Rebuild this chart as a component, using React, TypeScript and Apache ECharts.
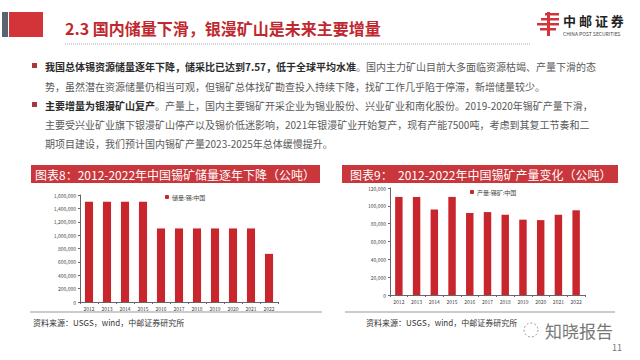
import React, { useEffect, useRef } from "react";
import * as echarts from "echarts";

const years = ["2012", "2013", "2014", "2015", "2016", "2017", "2018", "2019", "2020", "2021", "2022"];
const reserves = [1500000, 1500000, 1500000, 1500000, 1100000, 1100000, 1100000, 1100000, 1100000, 1100000, 720000];
const production = [110000, 110000, 96000, 110000, 92000, 93000, 90000, 84500, 84000, 90000, 95000];
const reserveName = "储量:锡:中国";
const productionName = "产量:锡矿:中国";

const titleText = "2.3 国内储量下滑，银漫矿山是未来主要增量";
const chart8Title = "图表8：2012-2022年中国锡矿储量逐年下降（公吨）";
const chart9Title = "图表9：  2012-2022年中国锡矿产量变化（公吨）";
const sourceText = "资料来源：USGS，wind，中邮证券研究所";
const bodyLines = [
  "{b|我国总体锡资源储量逐年下降，储采比已达到7.57，低于全球平均水准}。国内主力矿山目前大多面临资源枯竭、产量下滑的态",
  "势，虽然潜在资源储量仍相当可观，但锡矿总体找矿勘查投入持续下降，找矿工作几乎陷于停滞，新增储量较少。",
  "{b|主要增量为银漫矿山复产}。产量上，国内主要锡矿开采企业为锡业股份、兴业矿业和南化股份。2019-2020年锡矿产量下滑，",
  "主要受兴业矿业旗下银漫矿山停产以及锡价低迷影响，2021年银漫矿业开始复产，现有产能7500吨，考虑到其复工节奏和二",
  "期项目建设，我们预计国内锡矿产量2023-2025年总体缓慢提升。",
];

const FONT = "'Noto Sans CJK SC', 'Noto Sans', sans-serif";
const RED = "#c9252c";

export default function App() {
  const ref = useRef<HTMLDivElement>(null);
  useEffect(() => {
    document.body.style.margin = "0";
    const chart = echarts.init(ref.current!, null, { renderer: "svg" });
    const lineYs = [66, 86, 105, 124, 143];
    const body: any[] = bodyLines.map((t, i) => ({
      type: "text",
      x: 45,
      y: lineYs[i],
      style: {
        text: t,
        fontFamily: FONT,
        fontSize: 10,
        fill: "#595959",
        verticalAlign: "middle",
        rich: { b: { fontWeight: "bold", fill: "#2b2b2b", fontSize: 10, fontFamily: FONT } },
      },
    }));
    const axisLabel = { fontSize: 5, color: "#444", fontFamily: FONT };
    const yLabel = {
      ...axisLabel,
      formatter: (v: number) => v.toLocaleString("en-US"),
      margin: 4,
    };
    const axisLine = { show: true, lineStyle: { color: "#666", width: 1 } };
    chart.setOption({
      animation: false,
      backgroundColor: "#ffffff",
      textStyle: { fontFamily: FONT },
      legend: [
        {
          data: [reserveName],
          left: 160,
          top: 189,
          itemWidth: 4,
          itemHeight: 4,
          itemGap: 2,
          textStyle: { fontSize: 6, color: "#444", padding: [0, 0, 0, -2] },
        },
        {
          data: [productionName],
          left: 465,
          top: 184,
          itemWidth: 4,
          itemHeight: 4,
          textStyle: { fontSize: 6, color: "#444", padding: [0, 0, 0, -2] },
        },
      ],
      grid: [
        { left: 80, top: 195, right: 362, bottom: 58 },
        { left: 390, top: 188, right: 55, bottom: 65 },
      ],
      xAxis: [
        {
          type: "category",
          gridIndex: 0,
          data: years,
          axisLine,
          axisTick: { show: true, length: 2, lineStyle: { color: "#666" } },
          axisLabel: { ...axisLabel, margin: 4 },
        },
        {
          type: "category",
          gridIndex: 1,
          data: years,
          axisLine,
          axisTick: { show: true, length: 2, lineStyle: { color: "#666" } },
          axisLabel: { ...axisLabel, margin: 4 },
        },
      ],
      yAxis: [
        {
          type: "value",
          gridIndex: 0,
          min: 0,
          max: 1600000,
          interval: 200000,
          axisLine,
          axisTick: { show: true, length: 2, lineStyle: { color: "#666" } },
          splitLine: { show: false },
          axisLabel: yLabel,
        },
        {
          type: "value",
          gridIndex: 1,
          min: 0,
          max: 120000,
          interval: 20000,
          axisLine,
          axisTick: { show: true, length: 2, lineStyle: { color: "#666" } },
          splitLine: { show: false },
          axisLabel: yLabel,
        },
      ],
      series: [
        {
          type: "bar",
          name: reserveName,
          xAxisIndex: 0,
          yAxisIndex: 0,
          data: reserves,
          barWidth: "45%",
          itemStyle: { color: RED },
        },
        {
          type: "bar",
          name: productionName,
          xAxisIndex: 1,
          yAxisIndex: 1,
          data: production,
          barWidth: "42%",
          itemStyle: { color: RED },
        },
      ],
      graphic: [
        { type: "rect", shape: { x: 2, y: 12, width: 6, height: 25 }, style: { fill: "#5a6270" } },
        { type: "rect", shape: { x: 9, y: 12, width: 34, height: 25 }, style: { fill: "#d2343a" } },
        {
          type: "text",
          x: 65,
          y: 28,
          style: {
            text: titleText,
            fontFamily: FONT,
            fontSize: 16,
            fontWeight: "bold",
            fill: "#c0282f",
            verticalAlign: "middle",
          },
        },
        {
          type: "line",
          shape: { x1: 65, y1: 44, x2: 530, y2: 44 },
          style: { stroke: "#aaaaaa", lineWidth: 1, lineDash: [1, 1] },
        },
        // logo mark
        { type: "rect", shape: { x: 545, y: 13, width: 14, height: 2.5 }, style: { fill: "#d2343a" } },
        { type: "rect", shape: { x: 541, y: 18, width: 18, height: 2.5 }, style: { fill: "#d2343a" } },
        { type: "rect", shape: { x: 537, y: 23, width: 22, height: 2.5 }, style: { fill: "#d2343a" } },
        { type: "rect", shape: { x: 540, y: 28, width: 16, height: 2.5 }, style: { fill: "#d2343a" } },
        { type: "rect", shape: { x: 547, y: 12, width: 3, height: 24 }, style: { fill: "#d2343a" } },
        {
          type: "text",
          x: 563,
          y: 20,
          style: {
            text: "中 邮 证 券",
            fontFamily: FONT,
            fontSize: 13,
            fontWeight: "bold",
            fill: "#222",
            verticalAlign: "middle",
          },
        },
        {
          type: "text",
          x: 563,
          y: 33,
          style: { text: "CHINA POST SECURITIES", fontFamily: FONT, fontSize: 5, fill: "#444", verticalAlign: "middle" },
        },
        // bullets
        { type: "rect", shape: { x: 32, y: 63, width: 5, height: 5 }, style: { fill: "#a23a3e" } },
        { type: "rect", shape: { x: 32, y: 102, width: 5, height: 5 }, style: { fill: "#a23a3e" } },
        ...body,
        // chart title bars
        { type: "rect", shape: { x: 31, y: 165, width: 289, height: 18 }, style: { fill: "#c9363b" } },
        {
          type: "text",
          x: 35,
          y: 174,
          style: { text: chart8Title, fontFamily: FONT, fontSize: 12, fill: "#ffffff", verticalAlign: "middle" },
        },
        { type: "rect", shape: { x: 342, y: 165, width: 276, height: 18 }, style: { fill: "#c9363b" } },
        {
          type: "text",
          x: 350,
          y: 174,
          style: { text: chart9Title, fontFamily: FONT, fontSize: 12, fill: "#ffffff", verticalAlign: "middle" },
        },
        // source lines
        { type: "line", shape: { x1: 30, y1: 312, x2: 322, y2: 312 }, style: { stroke: "#999", lineWidth: 1 } },
        { type: "line", shape: { x1: 345, y1: 312, x2: 615, y2: 312 }, style: { stroke: "#999", lineWidth: 1 } },
        {
          type: "text",
          x: 33,
          y: 322,
          style: { text: sourceText, fontFamily: FONT, fontSize: 8, fill: "#333", verticalAlign: "middle" },
        },
        {
          type: "text",
          x: 366,
          y: 322,
          style: { text: sourceText, fontFamily: FONT, fontSize: 8, fill: "#333", verticalAlign: "middle" },
        },
        // watermark & page number
        {
          type: "circle",
          shape: { cx: 531, cy: 330, r: 7 },
          style: { fill: "none", stroke: "#999", lineWidth: 1, lineDash: [2, 2] },
        },
        {
          type: "text",
          x: 545,
          y: 330,
          style: { text: "知晓报告", fontFamily: FONT, fontSize: 17, fill: "#777", verticalAlign: "middle" },
        },
        {
          type: "text",
          x: 612,
          y: 347,
          style: { text: "11", fontFamily: FONT, fontSize: 9, fill: "#777", verticalAlign: "middle" },
        },
      ],
    });
    return () => chart.dispose();
  }, []);
  return <div ref={ref} style={{ position: "absolute", left: 0, top: 0, width: 640, height: 360 }} />;
}
